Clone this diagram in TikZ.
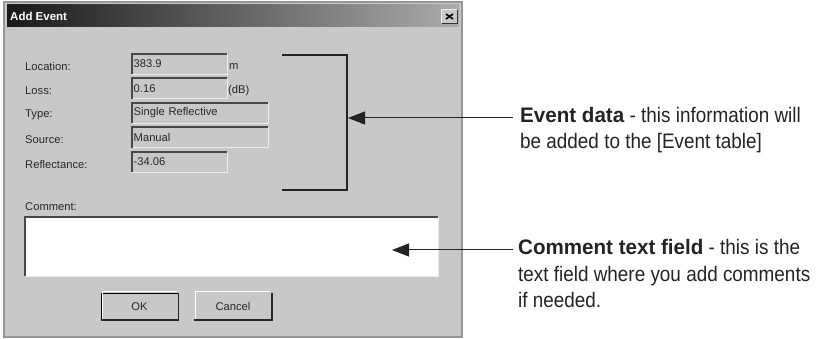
\documentclass[tikz,border=0pt]{standalone}
\usepackage{fontspec}
\setmainfont{Liberation Sans}
\newfontfamily\notefont[FakeStretch=0.90,BoldFeatures={FakeStretch=0.98}]{Liberation Sans}
\usetikzlibrary{arrows.meta}

\definecolor{winbg}{RGB}{200,200,200}
\definecolor{winedge}{RGB}{150,150,150}
\definecolor{bevdark}{RGB}{72,72,72}
\definecolor{bevlight}{RGB}{236,236,236}
\definecolor{inkgray}{RGB}{35,35,35}

\tikzset{
  dlgtext/.style={font=\fontsize{11.2}{13}\selectfont, text=black!85},
  fieldbox/.style={dlgtext, fill=winbg, anchor=west, minimum height=20pt, inner sep=1.5pt, align=left},
  btnbox/.style={dlgtext, fill=winbg, minimum width=77pt, minimum height=26pt, inner sep=0pt},
  sunk/.style={bevdark, line width=1.6pt},
  lit/.style={bevlight, line width=1pt},
  note/.style={font=\notefont\fontsize{21}{26}\selectfont, text=inkgray, align=left, inner sep=0pt, anchor=base west},
  pointer/.style={inkgray, line width=1pt, -{Triangle[length=17pt,width=13pt]}},
  bracketline/.style={inkgray, line width=1.2pt}
}

\begin{document}
\begin{tikzpicture}[x=1pt,y=-1pt]
\useasboundingbox (0,0) rectangle (817,339);
% dialog window and title bar
\draw[winedge,line width=2pt,fill=winbg] (4,2) rectangle (462,337);
\shade[left color=black!90, right color=black!33] (7,5) rectangle (459,27);
\node[font=\bfseries\fontsize{11.5}{12}\selectfont, text=white, anchor=west, inner sep=0pt] (ttl) at (10,16) {Add Event};
\node[fill=winbg, minimum width=15pt, minimum height=13pt, inner sep=0pt] (xbtn) at (449.5,16.5) {};
\draw[lit] (xbtn.south west) -- (xbtn.north west) -- (xbtn.north east);
\draw[black!80,line width=1pt] (xbtn.south west) -- (xbtn.south east) -- (xbtn.north east);
\draw[black,line width=1.6pt] ([shift={(-3.5,-2.5)}]xbtn.center) -- ([shift={(3.5,2.5)}]xbtn.center);
\draw[black,line width=1.6pt] ([shift={(-3.5,2.5)}]xbtn.center) -- ([shift={(3.5,-2.5)}]xbtn.center);

% event rows
\foreach \lab/\val/\w [count=\i] in {Location:/383.9/95, Loss:/0.16/95, Type:/Single Reflective/136, Source:/Manual/136, Reflectance:/-34.06/95} {
  \pgfmathsetmacro\y{64+24.5*(\i-1)}
  \node[dlgtext, anchor=west, inner sep=0pt] (lab\i) at (25,\y+2) {\lab};
  \node[fieldbox, text width=\w pt-3pt] (fld\i) at (132,\y) {\val};
  \draw[lit] (fld\i.south west) -- (fld\i.south east) -- (fld\i.north east);
  \draw[sunk] (fld\i.south west) -- (fld\i.north west) -- (fld\i.north east);
}
\node[dlgtext, anchor=west, inner sep=0pt] (unitm) at (229,66) {m};
\node[dlgtext, anchor=west, inner sep=0pt] (unitdb) at (228,91) {(dB)};

% comment box
\node[dlgtext, anchor=west, inner sep=0pt] (cmlab) at (25,207) {Comment:};
\node[fill=white, minimum width=413pt, minimum height=59pt, inner sep=0pt, anchor=north west] (cmbox) at (25,217) {};
\draw[lit] (cmbox.south west) -- (cmbox.south east) -- (cmbox.north east);
\draw[sunk] (cmbox.south west) -- (cmbox.north west) -- (cmbox.north east);

% buttons
\node[btnbox, draw=black, line width=1pt] (okbtn) at (139.5,306.5) {OK};
\node[btnbox] (cancelbtn) at (233,306.5) {Cancel};
\foreach \b in {okbtn, cancelbtn} {
  \draw[white,line width=1pt] ([shift={(1.5,1.5)}]\b.south west) -- ([shift={(1.5,-1.5)}]\b.north west) -- ([shift={(-1.5,-1.5)}]\b.north east);
  \draw[black!85,line width=1.6pt] (\b.south west) -- (\b.south east) -- (\b.north east);
}

% bracket round the event data
\coordinate (brtop) at (282,55);
\coordinate (brbot) at (282,190);
\coordinate (evto) at (348,118);
\draw[bracketline] (brtop) -- (347,55) -- (347,190) -- (brbot);

% notes (base anchor sits on the last line)
\node[note] (evnote) at (520,149) {\textbf{Event data} - this information will\\be added to the [Event table]};
\node[note] (cmnote) at (518,307) {\textbf{Comment text field} - this is the\\text field where you add comments\\if needed.};
\coordinate (evfrom) at (513,118);
\coordinate (cmfrom) at (513,250);
\coordinate (cmto) at (392,250);
\draw[pointer] (evfrom) -- (evto);
\draw[pointer] (cmfrom) -- (cmto);
\end{tikzpicture}
\end{document}
